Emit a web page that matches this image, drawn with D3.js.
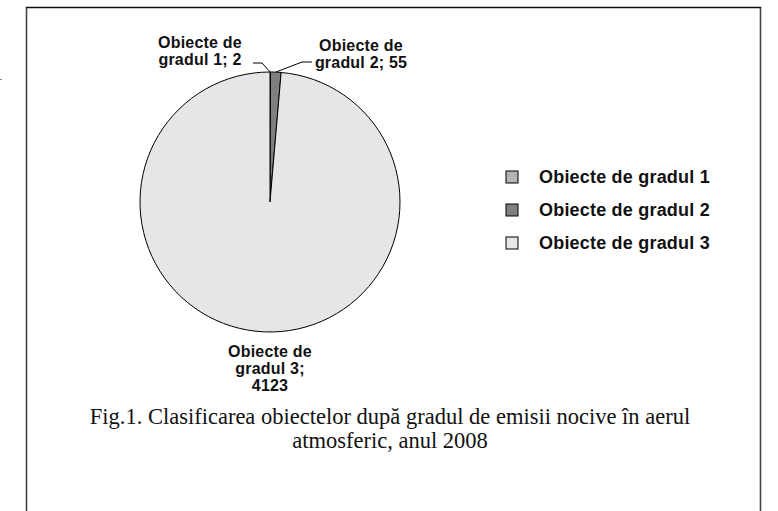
<!DOCTYPE html>
<html><head><meta charset="utf-8">
<script src="https://cdn.jsdelivr.net/npm/d3@7"></script>
<style>
html,body{margin:0;padding:0;background:#fff;}
svg{display:block;}
</style></head>
<body>
<svg id="chart" width="778" height="511"></svg>
<script>
const categories = ["Obiecte de gradul 1", "Obiecte de gradul 2", "Obiecte de gradul 3"];
const values = [2, 55, 4123];
const colors = ["#b4b4b4", "#7f7f7f", "#e6e6e8"];
const caption = ["Fig.1. Clasificarea obiectelor după gradul de emisii nocive în aerul", "atmosferic, anul 2008"];

const svg = d3.select("#chart");

// frame
svg.append("rect").attr("x", 26.5).attr("y", 7.5).attr("width", 734).attr("height", 600)
  .attr("fill", "none").attr("stroke", "#444").attr("stroke-width", 1.6);
svg.append("line").attr("x1", 26).attr("x2", 761).attr("y1", 7.5).attr("y2", 7.5)
  .attr("stroke", "#111").attr("stroke-width", 1);
svg.append("line").attr("x1", 0).attr("x2", 2).attr("y1", 79.5).attr("y2", 79.5).attr("stroke", "#888");

const cx = 270, cy = 202, R = 130;
const data = categories.map((c, i) => ({ cat: c, value: values[i], color: colors[i] }));
const pie = d3.pie().value(d => d.value).sort(null);
const arcs = pie(data);
const arc = d3.arc().innerRadius(0).outerRadius(R);

const g = svg.append("g").attr("transform", `translate(${cx},${cy})`);
g.selectAll("path").data(arcs).join("path")
  .attr("d", arc).attr("fill", d => d.data.color)
  .attr("stroke", "#000").attr("stroke-width", 1).attr("stroke-linejoin", "round");

// label layout (relative to pie centre)
const labelLayout = [
  { lines: d => ["Obiecte de", `gradul 1; ${d.value}`], x: -70, y: -154, elbow: [-8, -139], end: [-17, -139] },
  { lines: d => ["Obiecte de", `gradul 2; ${d.value}`], x: 91, y: -151, elbow: [32, -140], end: [42, -140] },
  { lines: d => ["Obiecte de", "gradul 3;", `${d.value}`], x: 0, y: 155, elbow: null, end: null }
];

arcs.forEach((a, i) => {
  const L = labelLayout[i];
  const mid = (a.startAngle + a.endAngle) / 2;
  const px = R * Math.sin(mid), py = -R * Math.cos(mid);
  if (L.elbow) {
    g.append("polyline")
      .attr("points", [[px, py], L.elbow, L.end].map(p => p.join(",")).join(" "))
      .attr("fill", "none").attr("stroke", "#000").attr("stroke-width", 1);
  }
  const t = g.append("text").attr("text-anchor", "middle")
    .attr("font-family", "Liberation Sans, Arial, sans-serif").attr("font-weight", "bold")
    .attr("font-size", 16).attr("letter-spacing", 0.2).attr("fill", "#111");
  L.lines(a.data).forEach((s, k) => {
    t.append("tspan").attr("x", L.x).attr("y", L.y + k * 16.8).text(s);
  });
});

// legend
const legY = d3.scalePoint().domain(categories).range([177, 243]);
const leg = svg.append("g");
categories.forEach((c, i) => {
  const y = legY(c);
  leg.append("rect").attr("x", 506).attr("y", y - 6).attr("width", 12).attr("height", 12)
    .attr("fill", colors[i]).attr("stroke", "#000").attr("stroke-width", 1);
  leg.append("text").attr("x", 539).attr("y", y + 6)
    .attr("font-family", "Liberation Sans, Arial, sans-serif").attr("font-weight", "bold")
    .attr("font-size", 18).attr("letter-spacing", 0.2).attr("fill", "#111").text(c);
});

// caption
const cap = svg.append("text").attr("text-anchor", "middle")
  .attr("font-family", "Liberation Serif, Times New Roman, serif").attr("font-size", 22.5).attr("fill", "#111");
caption.forEach((s, k) => cap.append("tspan").attr("x", 390).attr("y", 424 + k * 23.5).text(s));
</script>
</body></html>
